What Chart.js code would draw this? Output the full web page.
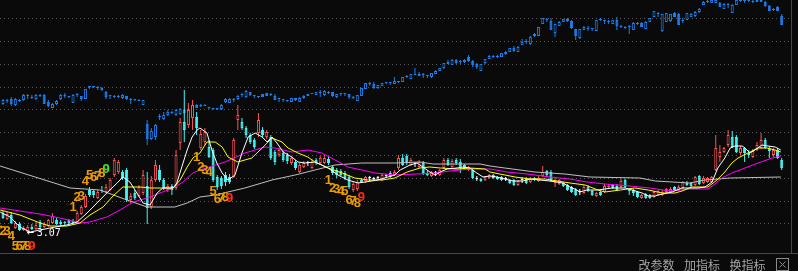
<!DOCTYPE html>
<html lang="zh">
<head>
<meta charset="utf-8">
<title>K线</title>
<script src="https://cdn.jsdelivr.net/npm/chart.js@4.4.1/dist/chart.umd.min.js"></script>
<style>
    html, body { margin: 0; padding: 0; background: #0a0a0a; overflow: hidden; }
    canvas { display: block; }
</style>
</head>
<body>
<canvas id="klineChart" width="798" height="271"></canvas>
<script>
// 주가 캔들 (시가, 종가, 고가, 저가)
const mainOpen = [
    3.27,3.21,3.25,3.12,3.16,3.10,3.08,3.13,3.11,3.18,
    3.13,3.14,3.17,3.20,3.18,3.18,3.20,3.19,3.18,3.26,
    3.33,3.50,3.49,3.42,3.50,3.48,3.50,3.65,3.68,3.68,
    3.70,3.40,3.47,3.44,3.47,3.54,3.33,3.60,3.70,3.60,
    3.50,3.54,3.52,3.97,4.18,4.15,4.22,4.23,3.92,3.98,
    3.93,3.90,3.63,3.62,3.65,3.63,3.63,4.20,4.18,4.12,
    4.05,4.00,4.07,4.10,4.03,4.03,3.88,3.85,3.87,3.85,
    3.77,3.78,3.68,3.73,3.77,3.72,3.80,3.77,3.77,3.81,
    3.73,3.70,3.69,3.67,3.63,3.50,3.51,3.60,3.59,3.62,
    3.61,3.62,3.60,3.64,3.67,3.65,3.72,3.82,3.84,3.75,
    3.76,3.73,3.77,3.67,3.64,3.67,3.65,3.72,3.80,3.73,
    3.80,3.78,3.75,3.70,3.70,3.61,3.61,3.60,3.62,3.65,
    3.63,3.63,3.61,3.60,3.60,3.55,3.60,3.61,3.58,3.62,
    3.59,3.64,3.69,3.68,3.57,3.56,3.57,3.55,3.53,3.50,
    3.48,3.47,3.53,3.49,3.44,3.48,3.48,3.53,3.55,3.54,
    3.53,3.60,3.50,3.50,3.48,3.42,3.46,3.45,3.43,3.45,
    3.45,3.48,3.48,3.53,3.50,3.52,3.57,3.57,3.55,3.64,
    3.57,3.58,3.58,3.70,3.83,3.88,3.95,4.03,4.03,3.87,
    3.92,3.87,3.83,3.90,3.92,4.00,3.92,3.85,3.90,3.80
];
const mainClose = [
    3.22,3.26,3.17,3.17,3.10,3.12,3.13,3.11,3.15,3.13,
    3.16,3.20,3.24,3.16,3.16,3.17,3.17,3.17,3.27,3.33,
    3.44,3.45,3.45,3.48,3.49,3.53,3.60,3.80,3.78,3.62,
    3.40,3.44,3.42,3.53,3.65,3.32,3.60,3.75,3.60,3.52,
    3.54,3.50,3.85,4.18,4.10,4.30,4.35,4.12,4.06,4.08,
    3.83,3.60,3.53,3.54,3.58,3.58,4.00,4.25,4.12,4.05,
    3.98,3.93,4.20,4.05,4.08,3.82,3.78,3.90,3.80,3.79,
    3.82,3.72,3.75,3.77,3.77,3.78,3.77,3.82,3.82,3.77,
    3.67,3.65,3.65,3.62,3.53,3.56,3.58,3.58,3.63,3.62,
    3.61,3.62,3.65,3.64,3.63,3.68,3.82,3.75,3.77,3.80,
    3.76,3.78,3.67,3.65,3.68,3.67,3.70,3.80,3.75,3.79,
    3.77,3.72,3.72,3.73,3.62,3.61,3.59,3.63,3.65,3.62,
    3.61,3.60,3.61,3.57,3.55,3.59,3.60,3.57,3.61,3.60,
    3.62,3.68,3.65,3.59,3.60,3.60,3.54,3.50,3.48,3.45,
    3.48,3.53,3.49,3.45,3.47,3.45,3.54,3.54,3.52,3.50,
    3.59,3.53,3.49,3.47,3.43,3.45,3.42,3.42,3.48,3.49,
    3.48,3.51,3.51,3.50,3.53,3.58,3.55,3.54,3.63,3.56,
    3.62,3.62,3.63,3.92,3.88,3.92,4.05,3.93,3.88,3.92,
    3.87,3.85,3.89,3.95,4.00,3.92,3.89,3.90,3.82,3.72
];
const mainHigh = [
    3.29,3.28,3.28,3.19,3.18,3.14,3.15,3.16,3.18,3.20,
    3.18,3.21,3.27,3.22,3.20,3.19,3.21,3.21,3.29,3.35,
    3.46,3.53,3.51,3.50,3.54,3.56,3.62,3.82,3.80,3.70,
    3.72,3.47,3.50,3.55,3.70,3.68,3.64,3.80,3.75,3.62,
    3.56,3.56,3.90,4.22,4.50,4.37,4.40,4.28,4.10,4.12,
    4.00,3.92,3.65,3.64,3.68,3.66,4.02,4.35,4.22,4.14,
    4.07,4.02,4.27,4.13,4.10,4.05,3.90,3.92,3.89,3.87,
    3.84,3.80,3.77,3.79,3.79,3.81,3.82,3.84,3.85,3.83,
    3.75,3.72,3.71,3.69,3.65,3.58,3.60,3.62,3.64,3.64,
    3.63,3.64,3.67,3.66,3.69,3.70,3.85,3.86,3.86,3.82,
    3.78,3.80,3.79,3.69,3.69,3.69,3.71,3.82,3.82,3.81,
    3.82,3.81,3.76,3.74,3.72,3.64,3.62,3.64,3.66,3.66,
    3.64,3.64,3.63,3.61,3.61,3.60,3.63,3.63,3.63,3.63,
    3.64,3.74,3.70,3.70,3.62,3.61,3.58,3.56,3.54,3.52,
    3.51,3.55,3.55,3.50,3.48,3.49,3.56,3.56,3.56,3.56,
    3.61,3.61,3.52,3.51,3.49,3.46,3.47,3.46,3.49,3.50,
    3.50,3.52,3.53,3.54,3.55,3.59,3.59,3.58,3.64,3.65,
    3.64,3.63,3.64,4.05,3.95,3.93,4.10,4.09,4.05,3.94,
    3.93,3.90,3.91,3.98,4.07,4.02,3.94,3.92,3.92,3.82
];
const mainLow = [
    3.21,3.20,3.16,3.11,3.09,3.09,3.07,3.10,3.10,3.11,
    3.12,3.13,3.16,3.15,3.14,3.15,3.16,3.16,3.17,3.25,
    3.32,3.43,3.42,3.41,3.47,3.47,3.49,3.63,3.66,3.60,
    3.38,3.37,3.40,3.43,3.45,3.16,3.31,3.58,3.58,3.50,
    3.48,3.45,3.50,3.90,3.98,4.12,4.10,4.05,3.90,3.95,
    3.82,3.58,3.50,3.51,3.54,3.56,3.62,4.10,4.10,4.02,
    3.96,3.91,4.03,4.03,4.01,3.80,3.75,3.83,3.78,3.76,
    3.75,3.70,3.67,3.72,3.74,3.71,3.75,3.76,3.76,3.75,
    3.65,3.62,3.64,3.60,3.51,3.48,3.49,3.57,3.57,3.59,
    3.60,3.60,3.59,3.62,3.62,3.64,3.70,3.74,3.75,3.74,
    3.73,3.72,3.65,3.64,3.63,3.64,3.64,3.71,3.74,3.72,
    3.75,3.67,3.70,3.69,3.61,3.59,3.58,3.59,3.61,3.61,
    3.60,3.59,3.59,3.56,3.54,3.54,3.57,3.56,3.57,3.59,
    3.58,3.63,3.63,3.58,3.53,3.55,3.53,3.49,3.47,3.44,
    3.45,3.46,3.48,3.44,3.43,3.44,3.47,3.52,3.51,3.49,
    3.52,3.52,3.45,3.44,3.42,3.41,3.41,3.41,3.42,3.44,
    3.44,3.47,3.47,3.49,3.49,3.51,3.54,3.53,3.54,3.55,
    3.56,3.57,3.57,3.69,3.78,3.87,3.93,3.92,3.87,3.85,
    3.78,3.82,3.82,3.89,3.91,3.91,3.82,3.83,3.81,3.70
];

// 지수 오버레이 캔들 (파란색)
const idxOpen = [
    4.36,4.39,4.41,4.35,4.40,4.40,4.44,4.42,4.41,4.44,
    4.45,4.38,4.32,4.36,4.41,4.44,4.43,4.37,4.45,4.44,
    4.41,4.53,4.53,4.53,4.52,4.48,4.44,4.43,4.43,4.42,
    4.44,4.40,4.40,4.39,4.35,4.16,4.01,4.03,4.23,4.21,
    4.25,4.27,4.25,4.26,4.30,4.30,4.33,4.35,4.34,4.34,
    4.32,4.31,4.31,4.31,4.38,4.37,4.40,4.41,4.45,4.43,
    4.48,4.44,4.43,4.46,4.47,4.45,4.44,4.41,4.40,4.39,
    4.38,4.42,4.38,4.42,4.46,4.47,4.45,4.47,4.45,4.47,
    4.48,4.43,4.46,4.46,4.46,4.42,4.39,4.44,4.51,4.56,
    4.56,4.52,4.54,4.57,4.57,4.56,4.59,4.58,4.63,4.61,
    4.65,4.66,4.65,4.64,4.63,4.66,4.69,4.72,4.78,4.75,
    4.80,4.78,4.78,4.83,4.79,4.76,4.69,4.77,4.81,4.83,
    4.83,4.83,4.86,4.88,4.92,4.88,4.95,4.98,4.96,5.04,
    5.04,5.16,5.20,5.19,5.07,5.14,5.18,5.19,5.19,5.11,
    5.02,5.10,5.11,5.11,5.09,5.20,5.19,5.18,5.16,5.20,
    5.13,5.12,5.13,5.10,5.16,5.17,5.11,5.18,5.23,5.26,
    5.09,5.18,5.19,5.27,5.26,5.19,5.20,5.23,5.24,5.28,
    5.35,5.38,5.37,5.37,5.37,5.31,5.35,5.27,5.35,5.39,
    5.39,5.39,5.38,5.38,5.38,5.38,5.34,5.30,5.33,5.24
];
const idxClose = [
    4.40,4.39,4.36,4.41,4.39,4.45,4.44,4.43,4.45,4.44,
    4.36,4.34,4.36,4.39,4.45,4.44,4.43,4.45,4.45,4.41,
    4.51,4.53,4.53,4.52,4.50,4.43,4.44,4.43,4.44,4.45,
    4.41,4.40,4.40,4.40,4.40,4.01,4.09,4.15,4.23,4.25,
    4.28,4.28,4.30,4.31,4.27,4.30,4.33,4.32,4.34,4.34,
    4.32,4.31,4.31,4.35,4.41,4.41,4.40,4.44,4.45,4.49,
    4.45,4.44,4.43,4.43,4.44,4.45,4.40,4.41,4.40,4.39,
    4.42,4.40,4.42,4.44,4.44,4.46,4.48,4.47,4.49,4.47,
    4.44,4.46,4.46,4.46,4.43,4.42,4.45,4.52,4.57,4.56,
    4.52,4.55,4.57,4.57,4.57,4.59,4.58,4.63,4.63,4.66,
    4.65,4.64,4.65,4.64,4.67,4.69,4.72,4.77,4.76,4.80,
    4.77,4.78,4.80,4.79,4.75,4.73,4.76,4.81,4.84,4.83,
    4.83,4.87,4.88,4.92,4.89,4.93,4.98,4.98,5.03,5.06,
    5.13,5.22,5.20,5.10,5.16,5.18,5.21,5.21,5.12,5.04,
    5.11,5.13,5.11,5.11,5.20,5.20,5.19,5.18,5.20,5.14,
    5.13,5.12,5.13,5.17,5.16,5.13,5.18,5.22,5.29,5.26,
    5.26,5.27,5.26,5.23,5.15,5.19,5.27,5.26,5.28,5.31,
    5.38,5.38,5.40,5.40,5.33,5.36,5.35,5.35,5.40,5.39,
    5.39,5.39,5.38,5.40,5.40,5.34,5.29,5.30,5.29,5.15
];
const idxHigh = [
    4.41,4.41,4.43,4.42,4.41,4.46,4.46,4.45,4.46,4.46,
    4.46,4.40,4.37,4.40,4.46,4.47,4.44,4.46,4.47,4.44,
    4.51,4.54,4.54,4.54,4.53,4.49,4.44,4.45,4.45,4.46,
    4.44,4.42,4.41,4.41,4.40,4.20,4.12,4.16,4.26,4.28,
    4.30,4.29,4.31,4.32,4.31,4.32,4.34,4.36,4.36,4.36,
    4.33,4.32,4.32,4.36,4.42,4.42,4.42,4.45,4.47,4.50,
    4.48,4.45,4.44,4.46,4.47,4.47,4.46,4.42,4.41,4.40,
    4.42,4.42,4.43,4.45,4.46,4.47,4.48,4.50,4.50,4.49,
    4.48,4.46,4.47,4.47,4.46,4.44,4.45,4.52,4.57,4.58,
    4.58,4.55,4.57,4.57,4.58,4.63,4.59,4.63,4.65,4.66,
    4.72,4.68,4.67,4.65,4.67,4.70,4.72,4.77,4.80,4.81,
    4.81,4.80,4.81,4.85,4.80,4.77,4.76,4.81,4.85,4.85,
    4.85,4.87,4.89,4.92,4.94,4.94,5.01,5.01,5.04,5.07,
    5.13,5.22,5.22,5.22,5.16,5.19,5.21,5.22,5.20,5.11,
    5.11,5.14,5.14,5.12,5.20,5.22,5.20,5.20,5.20,5.23,
    5.15,5.14,5.15,5.18,5.18,5.18,5.19,5.22,5.29,5.28,
    5.26,5.27,5.26,5.28,5.27,5.22,5.27,5.27,5.29,5.32,
    5.39,5.40,5.40,5.40,5.38,5.37,5.37,5.36,5.40,5.40,
    5.40,5.40,5.40,5.40,5.40,5.39,5.35,5.32,5.34,5.26
];
const idxLow = [
    4.35,4.37,4.34,4.34,4.38,4.39,4.41,4.41,4.40,4.43,
    4.36,4.33,4.32,4.35,4.40,4.42,4.42,4.37,4.43,4.39,
    4.41,4.51,4.52,4.50,4.49,4.41,4.41,4.42,4.42,4.41,
    4.40,4.36,4.39,4.39,4.35,3.95,4.00,4.00,4.20,4.20,
    4.24,4.26,4.24,4.25,4.26,4.28,4.31,4.32,4.33,4.34,
    4.31,4.30,4.30,4.30,4.37,4.37,4.38,4.40,4.43,4.42,
    4.44,4.42,4.42,4.43,4.44,4.44,4.40,4.38,4.38,4.38,
    4.38,4.39,4.38,4.41,4.44,4.46,4.45,4.43,4.44,4.46,
    4.43,4.42,4.44,4.44,4.41,4.41,4.39,4.44,4.51,4.54,
    4.51,4.51,4.54,4.56,4.55,4.56,4.57,4.58,4.62,4.61,
    4.65,4.64,4.62,4.62,4.62,4.66,4.69,4.71,4.76,4.75,
    4.76,4.76,4.77,4.78,4.73,4.71,4.69,4.76,4.81,4.82,
    4.82,4.83,4.85,4.88,4.88,4.88,4.95,4.96,4.95,5.03,
    5.04,5.16,5.18,5.10,5.03,5.14,5.18,5.18,5.11,5.00,
    5.01,5.10,5.09,5.09,5.09,5.19,5.16,5.16,5.16,5.10,
    5.12,5.11,5.06,5.10,5.15,5.13,5.11,5.18,5.23,5.23,
    5.08,5.18,5.18,5.23,5.15,5.17,5.20,5.23,5.23,5.27,
    5.35,5.37,5.37,5.37,5.33,5.31,5.32,5.27,5.35,5.38,
    5.37,5.38,5.37,5.38,5.38,5.33,5.29,5.29,5.29,5.15
];

// 이동평균선 [봉 번호, 값]
const ma5Line = [
    [-0.7,3.28],[1.7,3.23],[4.1,3.13],[6.6,3.08],[9.0,3.10],[11.4,3.12],[15.5,3.15],[18.0,3.18],
    [20.4,3.27],[22.8,3.37],[25.2,3.47],[27.7,3.57],[29.1,3.63],[30.8,3.58],[32.5,3.47],[34.0,3.37],
    [35.7,3.35],[37.4,3.47],[38.8,3.52],[41.3,3.52],[42.2,3.57],[43.4,3.73],[44.7,3.90],[45.9,4.03],
    [47.1,4.10],[47.8,4.12],[49.5,4.07],[50.7,3.90],[51.9,3.77],[53.2,3.67],[54.6,3.60],[56.3,3.65],
    [58.0,3.87],[59.5,4.03],[61.2,4.07],[62.9,4.03],[64.1,3.98],[65.3,4.03],[66.5,3.97],[68.0,3.88],
    [70.1,3.83],[71.6,3.78],[73.3,3.77],[75.7,3.78],[77.4,3.75],[78.9,3.72],[81.3,3.65],[83.7,3.60],
    [86.2,3.57],[87.9,3.58],[91.0,3.60],[93.4,3.63],[95.1,3.65],[96.4,3.70],[98.8,3.75],[100.5,3.77],
    [101.9,3.73],[103.6,3.68],[104.9,3.65],[106.1,3.68],[107.8,3.71],[110.2,3.72],[111.7,3.73],[113.3,3.72],
    [115.0,3.67],[116.5,3.63],[118.2,3.64],[119.9,3.63],[121.8,3.61],[123.8,3.59],[126.2,3.59],[127.9,3.61],
    [130.3,3.60],[132.8,3.59],[135.9,3.57],[137.6,3.53],[139.3,3.50],[140.0,3.48],[141.7,3.50],[144.4,3.50],
    [147.8,3.52],[151.0,3.52],[152.7,3.50],[155.1,3.47],[156.6,3.44],[158.3,3.44],[159.0,3.45],[162.4,3.48],
    [164.8,3.52],[168.7,3.52],[170.4,3.53],[172.1,3.58],[173.5,3.72],[175.2,3.82],[176.5,3.92],[177.7,3.94],
    [179.4,3.94],[180.1,3.92],[181.3,3.87],[182.5,3.90],[184.2,3.95],[185.7,3.94],[187.4,3.93],[188.8,3.90]
];
const ma10Line = [
    [-0.7,3.30],[4.1,3.25],[9.0,3.17],[11.4,3.14],[15.5,3.14],[18.7,3.17],[21.1,3.25],[24.3,3.33],
    [26.7,3.44],[29.1,3.53],[33.3,3.53],[35.7,3.52],[41.3,3.52],[43.0,3.60],[44.7,3.73],[46.1,3.82],
    [47.8,3.87],[49.5,3.98],[51.5,3.98],[53.2,3.93],[54.6,3.83],[57.0,3.78],[60.4,3.82],[62.9,3.92],
    [65.3,4.02],[67.7,3.98],[69.2,3.92],[71.6,3.87],[74.0,3.83],[75.7,3.78],[78.9,3.72],[82.3,3.67],
    [85.4,3.62],[88.6,3.60],[92.0,3.60],[95.1,3.62],[98.1,3.68],[101.2,3.72],[103.6,3.73],[106.1,3.72],
    [110.2,3.71],[113.3,3.72],[117.0,3.71],[118.2,3.68],[120.6,3.66],[124.3,3.63],[127.9,3.61],[131.6,3.61],
    [134.5,3.59],[137.6,3.57],[141.3,3.55],[144.4,3.50],[146.1,3.48],[149.8,3.50],[153.4,3.52],[156.6,3.50],
    [160.0,3.47],[163.1,3.47],[164.8,3.49],[167.2,3.53],[171.1,3.53],[173.3,3.60],[175.2,3.68],[176.9,3.77],
    [178.4,3.82],[180.8,3.87],[183.3,3.92],[185.4,3.92],[187.4,3.90],[188.8,3.88]
];
const ma20Line = [
    [-0.7,3.32],[4.1,3.29],[9.0,3.26],[13.8,3.22],[18.7,3.17],[21.1,3.18],[25.2,3.23],[28.4,3.30],
    [31.6,3.38],[35.0,3.42],[38.1,3.47],[41.3,3.52],[43.7,3.58],[46.1,3.67],[47.8,3.70],[53.9,3.78],
    [58.7,3.87],[63.6,3.93],[66.0,3.92],[70.1,3.88],[74.0,3.90],[77.4,3.87],[80.6,3.80],[83.7,3.73],
    [87.1,3.70],[90.3,3.67],[95.1,3.65],[100.5,3.66],[104.9,3.67],[108.5,3.69],[113.3,3.71],[118.2,3.71],
    [122.3,3.68],[127.2,3.66],[132.8,3.63],[137.6,3.61],[141.7,3.58],[146.1,3.56],[152.2,3.54],[157.0,3.52],
    [161.9,3.49],[166.7,3.51],[171.1,3.51],[172.8,3.56],[174.5,3.62],[176.9,3.67],[180.1,3.72],[183.3,3.77],
    [186.7,3.82],[188.8,3.84]
];
const ma60Line = [
    [-0.7,3.74],[7.8,3.63],[16.3,3.52],[23.5,3.50],[30.1,3.40],[35.0,3.33],[41.7,3.33],[44.7,3.37],
    [47.8,3.43],[51.5,3.45],[58.7,3.52],[65.3,3.60],[70.9,3.65],[75.7,3.70],[80.6,3.75],[87.1,3.77],
    [95.1,3.77],[101.2,3.78],[104.4,3.76],[115.8,3.76],[118.2,3.74],[121.8,3.72],[125.5,3.70],[129.1,3.68],
    [136.4,3.66],[142.5,3.63],[154.6,3.62],[158.3,3.59],[166.7,3.57],[170.4,3.60],[176.5,3.62],[188.8,3.63]
];

// 격자선 값
const gridValues = [5.217, 4.989, 4.761, 4.534, 4.306, 4.078, 3.850, 3.622, 3.395, 3.167];

// TD 카운트 (봉 번호, 위치 값, 숫자, 구분)
const tdIndex = [-1,0,1,2,3,4,5,6,7, 17,18,19,20,21,22,23,24,25, 47,48,49,50,51,52,53,54,55, 79,80,81,82,83,84,85,86,87];
const tdValue = [
    3.17,3.09,3.09,3.04,2.94,2.94,2.94,2.94,2.94,
    3.33,3.43,3.44,3.59,3.65,3.63,3.64,3.67,3.71,
    3.83,3.73,3.70,3.68,3.49,3.41,3.42,3.43,3.42,
    3.60,3.52,3.51,3.49,3.49,3.40,3.39,3.37,3.43
];
const tdNumber = [1,2,3,4,5,6,7,8,9, 1,2,3,4,5,6,7,8,9, 1,2,3,4,5,6,7,8,9, 1,2,3,4,5,6,7,8,9];
const tdKind = ['buy', 'sell', 'buy', 'buy'];

// 하단 메뉴
const toolLabels = ['改参数', '加指标', '换指标'];

// 색상
const BG = '#0a0a0a';
const UP = '#ff5454';
const DOWN = '#45f5f5';
const FLAT = '#ffffff';
const IDX = '#1a7ff0';

let klineChart;

function candleBars(open, close, high, low, colorUp, colorDown, colorFlat) {
    const colors = open.map((o, i) => close[i] > o ? colorUp : close[i] < o ? colorDown : colorFlat);
    const fills = open.map((o, i) => close[i] > o ? BG : colors[i]);
    return {
        body: open.map((o, i) => ({ x: i, y: [o, close[i]] })),
        wick: low.map((l, i) => ({ x: i, y: [l, high[i]] })),
        colors,
        fills
    };
}

// 배경, 격자선, 테두리
const framePlugin = {
    id: 'frame',
    beforeDraw(chart) {
        const { ctx, chartArea: area, scales: { y } } = chart;
        ctx.save();
        ctx.fillStyle = BG;
        ctx.fillRect(0, 0, chart.width, chart.height);

        ctx.strokeStyle = '#5a5a5a';
        ctx.lineWidth = 1;
        ctx.setLineDash([1, 3]);
        gridValues.forEach(v => {
            const py = Math.round(y.getPixelForValue(v)) + 0.5;
            ctx.beginPath();
            ctx.moveTo(area.left, py);
            ctx.lineTo(area.right - 2, py);
            ctx.stroke();
        });
        ctx.setLineDash([]);

        ctx.strokeStyle = '#484848';
        ctx.beginPath();
        ctx.moveTo(0, area.bottom + 0.5);
        ctx.lineTo(chart.width, area.bottom + 0.5);
        ctx.moveTo(area.right + 0.5, 0);
        ctx.lineTo(area.right + 0.5, area.bottom);
        ctx.stroke();
        ctx.restore();
    }
};

// TD 숫자, 최저가, 메뉴 글자
const textPlugin = {
    id: 'texts',
    afterDatasetsDraw(chart) {
        const { ctx, chartArea: area, scales: { x, y } } = chart;
        ctx.save();

        ctx.font = "bold 13px 'Liberation Sans'";
        ctx.textAlign = 'center';
        ctx.textBaseline = 'middle';
        tdIndex.forEach((idx, k) => {
            const n = tdNumber[k];
            const kind = tdKind[Math.floor(k / 9)];
            if (n === 9) ctx.fillStyle = kind === 'sell' ? '#33e833' : '#ff2a1a';
            else ctx.fillStyle = '#eb9c00';
            ctx.fillText(String(n), x.getPixelForValue(idx), y.getPixelForValue(tdValue[k]));
        });

        // 최저가 표시
        let lowIdx = 0;
        mainLow.forEach((v, i) => { if (v < mainLow[lowIdx]) lowIdx = i; });
        const lx = x.getPixelForValue(lowIdx);
        const ly = y.getPixelForValue(mainLow[lowIdx]);
        ctx.fillStyle = '#ffffff';
        ctx.textAlign = 'left';
        ctx.font = "12px 'DejaVu Sans Mono'";
        ctx.fillText('←', lx - 1, ly);
        ctx.font = "10px 'DejaVu Sans Mono'";
        ctx.fillText(mainLow[lowIdx].toFixed(2), lx + 9, ly + 0.5);

        // 하단 메뉴
        ctx.font = "12px 'Noto Sans CJK SC'";
        ctx.fillStyle = '#a4a4a4';
        ctx.textBaseline = 'alphabetic';
        const boxX = chart.width - 22;
        toolLabels.forEach((t, k) => {
            const tx = boxX - 1 - (toolLabels.length - k) * 45.5;
            ctx.fillText(t, tx, chart.height - 1.5);
        });
        ctx.strokeStyle = '#8a8a8a';
        ctx.strokeRect(boxX + 0.5, area.bottom + 5.5, 12, 12);
        ctx.beginPath();
        ctx.moveTo(boxX + 3.5, area.bottom + 8.5);
        ctx.lineTo(boxX + 9.5, area.bottom + 14.5);
        ctx.moveTo(boxX + 9.5, area.bottom + 8.5);
        ctx.lineTo(boxX + 3.5, area.bottom + 14.5);
        ctx.stroke();

        ctx.restore();
    }
};

function lineSet(points, color, order) {
    return {
        type: 'line',
        data: points.map(p => ({ x: p[0], y: p[1] })),
        borderColor: color,
        borderWidth: 1,
        pointRadius: 0,
        tension: 0,
        order
    };
}

function barSet(data, fill, border, thickness, order) {
    return {
        type: 'bar',
        data,
        backgroundColor: fill,
        borderColor: border,
        borderWidth: thickness > 1 ? 1 : 0,
        borderSkipped: false,
        inflateAmount: 0,
        barThickness: thickness,
        minBarLength: 1,
        grouped: false,
        order
    };
}

// 차트 초기화
function initializeChart() {
    const main = candleBars(mainOpen, mainClose, mainHigh, mainLow, UP, DOWN, FLAT);
    const idx = candleBars(idxOpen, idxClose, idxHigh, idxLow, IDX, IDX, IDX);

    const pxPerBar = 4.12;
    const areaWidth = 791;
    const xMin = -3 / pxPerBar;

    klineChart = new Chart(document.getElementById('klineChart'), {
        type: 'bar',
        data: {
            datasets: [
                barSet(idx.wick, idx.colors, idx.colors, 1, 20),
                barSet(idx.body, idx.fills, idx.colors, 3, 19),
                barSet(main.wick, main.colors, main.colors, 1, 18),
                barSet(main.body, main.fills, main.colors, 3, 17),
                lineSet(ma60Line, '#c0c0c0', 4),
                lineSet(ma20Line, '#ff00ff', 3),
                lineSet(ma10Line, '#ffff00', 2),
                lineSet(ma5Line, '#ffffff', 1)
            ]
        },
        options: {
            responsive: false,
            animation: false,
            devicePixelRatio: 1,
            events: [],
            layout: { padding: { left: 0, right: 7, top: 0, bottom: 18 } },
            scales: {
                x: { type: 'linear', min: xMin, max: xMin + areaWidth / pxPerBar, offset: false, display: false },
                y: { type: 'linear', min: 2.87, max: 5.40, display: false }
            },
            plugins: {
                legend: { display: false },
                tooltip: { enabled: false }
            }
        },
        plugins: [framePlugin, textPlugin]
    });
}

initializeChart();
</script>
</body>
</html>
